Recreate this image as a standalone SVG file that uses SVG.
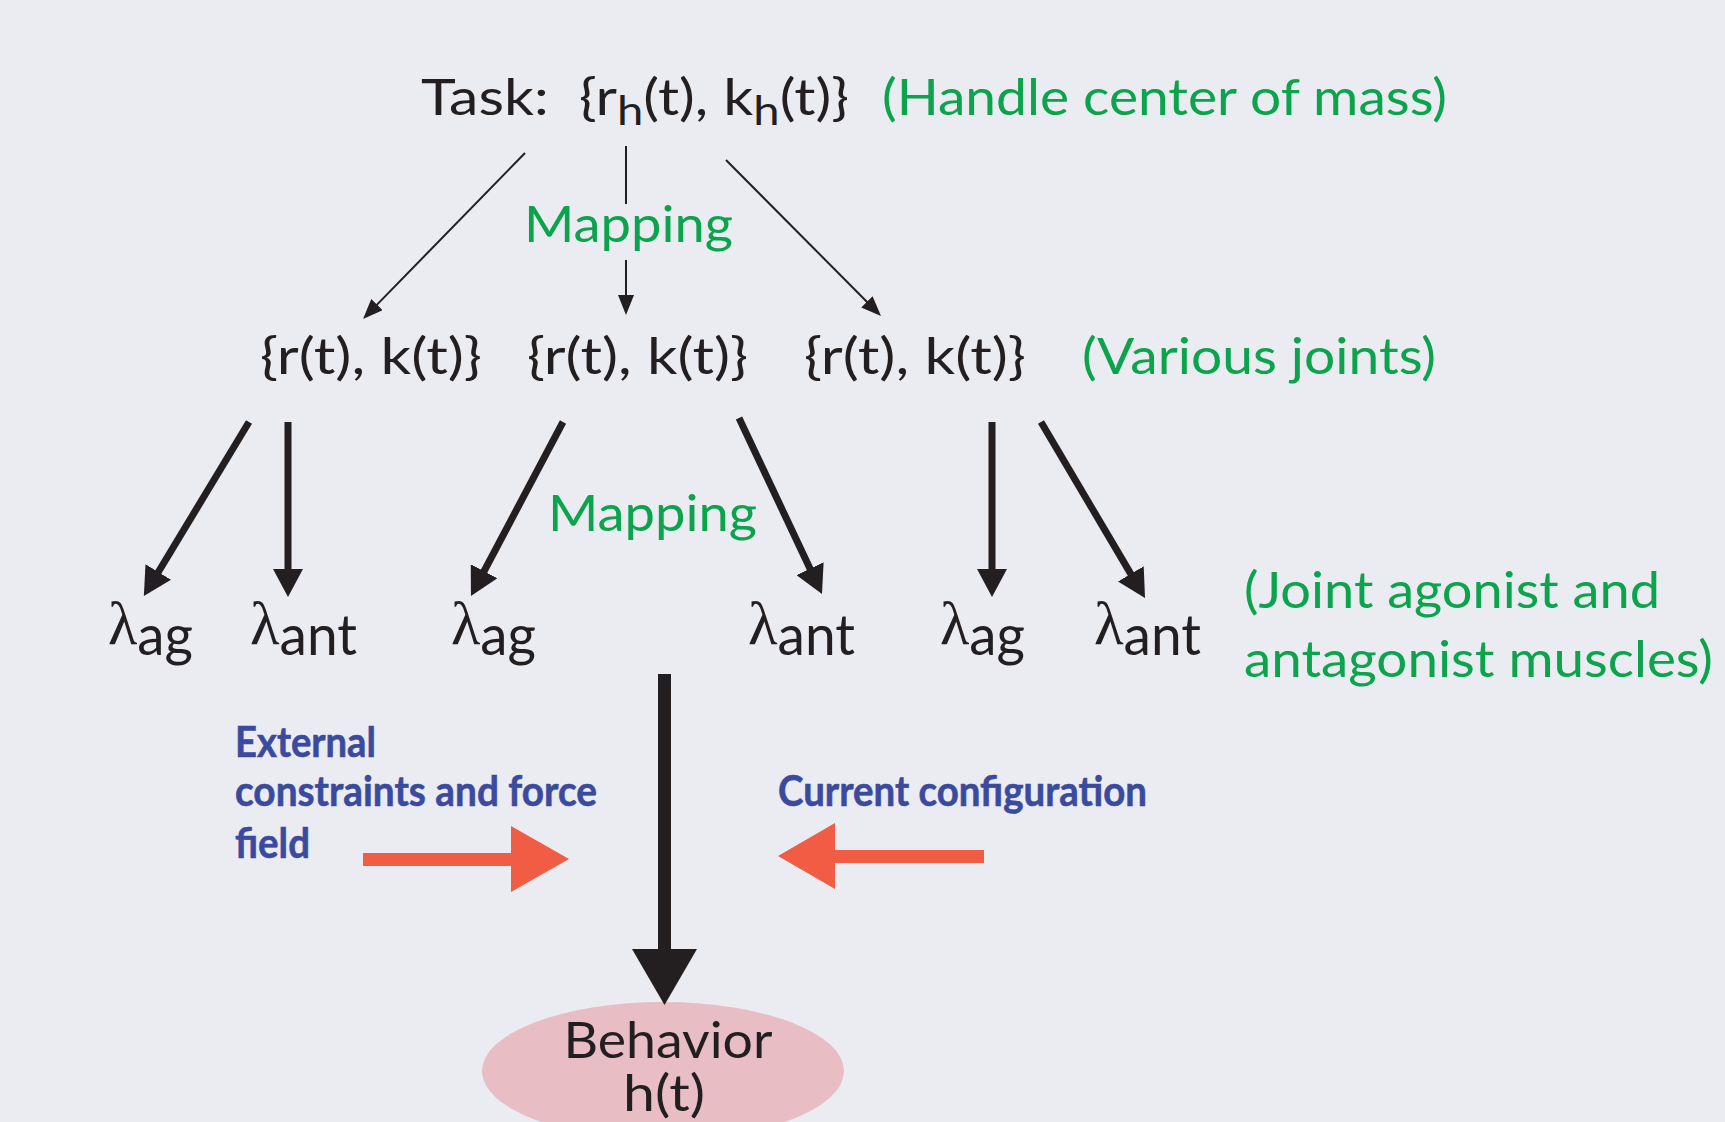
<svg xmlns="http://www.w3.org/2000/svg" width="1725" height="1122" viewBox="0 0 1725 1122">
<style>
.t{font-family:Lato,"Open Sans","Liberation Sans",sans-serif;font-size:50px;fill:#231f20}
.l{font-family:Lato,"Open Sans","Liberation Sans",sans-serif;font-size:56px;fill:#231f20}
.g{font-family:Lato,"Open Sans","Liberation Sans",sans-serif;font-size:50px;fill:#0ba44c}
.b{font-family:Lato,"Open Sans","Liberation Sans",sans-serif;font-size:42px;font-weight:bold;fill:#3a4a9e;stroke:#3a4a9e;stroke-width:0.6}
.lam{font-family:"Liberation Serif","DejaVu Serif",serif;font-size:62px}
.thin{stroke:#231f20;stroke-width:2;fill:none}
.thick{stroke:#231f20;stroke-width:7;fill:none}
</style>
<defs>
<marker id="ah" markerUnits="userSpaceOnUse" markerWidth="20" markerHeight="16" viewBox="0 0 20 16" refX="1" refY="8" orient="auto">
<path d="M0,0 L20,8 L0,16 Z" fill="#231f20"/>
</marker>
<marker id="ahT" markerUnits="userSpaceOnUse" markerWidth="28" markerHeight="30" viewBox="0 0 28 30" refX="2" refY="15" orient="auto">
<path d="M0,0 L28,15 L0,30 Z" fill="#231f20"/>
</marker>
</defs>
<rect width="1725" height="1122" fill="#ebebf2"/>

<g id="task">
<text class="t" x="421" y="115" font-size="53" xml:space="preserve" style="white-space:pre" textLength="428" lengthAdjust="spacingAndGlyphs">Task:  {r<tspan font-size="40" dy="10">h</tspan><tspan dy="-10">(t), k</tspan><tspan font-size="40" dy="10">h</tspan><tspan dy="-10">(t)}</tspan></text>
<text class="g" x="882" y="115" textLength="565" lengthAdjust="spacingAndGlyphs">(Handle center of mass)</text>
</g>

<g id="mapping1"><text class="g" x="524" y="242" textLength="209" lengthAdjust="spacingAndGlyphs">Mapping</text></g>

<g id="joint1"><text class="t" x="260" y="374" textLength="222" lengthAdjust="spacingAndGlyphs">{r(t), k(t)}</text></g>
<g id="joint2"><text class="t" x="527" y="374" textLength="221" lengthAdjust="spacingAndGlyphs">{r(t), k(t)}</text></g>
<g id="joint3"><text class="t" x="804" y="374" textLength="222" lengthAdjust="spacingAndGlyphs">{r(t), k(t)}</text></g>
<g id="joints-label"><text class="g" x="1082" y="374" textLength="354" lengthAdjust="spacingAndGlyphs">(Various joints)</text></g>

<g id="mapping2"><text class="g" x="548" y="531" textLength="209" lengthAdjust="spacingAndGlyphs">Mapping</text></g>

<g id="lam1"><text class="l" x="108" y="644" textLength="85" lengthAdjust="spacingAndGlyphs"><tspan class="lam">λ</tspan><tspan dy="11">ag</tspan></text></g>
<g id="lam2"><text class="l" x="250" y="644" textLength="107" lengthAdjust="spacingAndGlyphs"><tspan class="lam">λ</tspan><tspan dy="11">ant</tspan></text></g>
<g id="lam3"><text class="l" x="451" y="644" textLength="85" lengthAdjust="spacingAndGlyphs"><tspan class="lam">λ</tspan><tspan dy="11">ag</tspan></text></g>
<g id="lam4"><text class="l" x="748" y="644" textLength="107" lengthAdjust="spacingAndGlyphs"><tspan class="lam">λ</tspan><tspan dy="11">ant</tspan></text></g>
<g id="lam5"><text class="l" x="940" y="644" textLength="85" lengthAdjust="spacingAndGlyphs"><tspan class="lam">λ</tspan><tspan dy="11">ag</tspan></text></g>
<g id="lam6"><text class="l" x="1094" y="644" textLength="107" lengthAdjust="spacingAndGlyphs"><tspan class="lam">λ</tspan><tspan dy="11">ant</tspan></text></g>

<g id="muscles-label">
<text class="g" x="1244" y="608" textLength="416" lengthAdjust="spacingAndGlyphs">(Joint agonist and</text>
<text class="g" x="1244" y="677" textLength="469" lengthAdjust="spacingAndGlyphs">antagonist muscles)</text>
</g>

<g id="external">
<text class="b" x="235" y="757" textLength="141" lengthAdjust="spacingAndGlyphs">External</text>
<text class="b" x="235" y="806" textLength="362" lengthAdjust="spacingAndGlyphs">constraints and force</text>
<text class="b" x="235" y="858" textLength="75" lengthAdjust="spacingAndGlyphs">field</text>
</g>
<g id="current"><text class="b" x="778" y="806" textLength="369" lengthAdjust="spacingAndGlyphs">Current configuration</text></g>

<g id="behavior">
<ellipse cx="663" cy="1071" rx="181" ry="69" fill="#e8bec4"/>
<text class="t" x="668" y="1058" text-anchor="middle" textLength="209" lengthAdjust="spacingAndGlyphs">Behavior</text>
<text class="t" x="664" y="1111" text-anchor="middle" textLength="82" lengthAdjust="spacingAndGlyphs">h(t)</text>
</g>

<g id="connectors">
<line class="thin" x1="525" y1="153" x2="376.3" y2="305.4" marker-end="url(#ah)"/>
<line class="thin" x1="626" y1="146" x2="626" y2="204"/>
<line class="thin" x1="626" y1="260" x2="626" y2="296" marker-end="url(#ah)"/>
<line class="thin" x1="726" y1="160" x2="867.6" y2="302.5" marker-end="url(#ah)"/>

<line class="thick" x1="249" y1="422" x2="157.3" y2="573.7" marker-end="url(#ahT)"/>
<line class="thick" x1="288" y1="422" x2="288" y2="571" marker-end="url(#ahT)"/>
<line class="thick" x1="563" y1="422" x2="483.1" y2="573" marker-end="url(#ahT)"/>
<line class="thick" x1="739" y1="418" x2="810.9" y2="570.5" marker-end="url(#ahT)"/>
<line class="thick" x1="992" y1="422" x2="992" y2="571" marker-end="url(#ahT)"/>
<line class="thick" x1="1041" y1="422" x2="1131.8" y2="575.6" marker-end="url(#ahT)"/>

<rect x="658" y="674" width="13" height="277" fill="#231f20"/>
<polygon points="632,949 697,949 664.5,1005" fill="#231f20"/>

<polygon points="363,853 511,853 511,826 569,859 511,892 511,866 363,866" fill="#f15c45"/>
<polygon points="984,850 835,850 835,823 778,856 835,889 835,863 984,863" fill="#f15c45"/>
</g>
</svg>
